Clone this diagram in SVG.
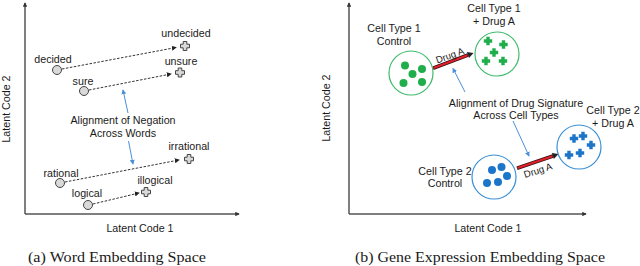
<svg xmlns="http://www.w3.org/2000/svg" width="640" height="266" viewBox="0 0 640 266">
<style>
.t{font-family:"Liberation Sans",Arial,sans-serif;font-size:10.7px;fill:#1a1a1a;text-anchor:middle}
.cap{font-family:"Liberation Serif","Times New Roman",serif;font-size:15px;fill:#1a1a1a;text-anchor:middle}
.ax{stroke:#555;stroke-width:1.5;fill:none}
.dash{stroke:#333;stroke-width:1;stroke-dasharray:2.5,1.5;fill:none}
.blue{stroke:#4a90d9;stroke-width:1;fill:none}
.wc{fill:#d9d9d9;stroke:#444;stroke-width:1}
.gc{fill:none;stroke:#3dbb6a;stroke-width:1.2}
.bc{fill:none;stroke:#3a8fd6;stroke-width:1.2}
.gd{fill:#1fae4a}
.bd{fill:#1b75c9}
.rout{stroke:#3a1010;stroke-width:3.6;fill:none}
.rin{stroke:#e0202a;stroke-width:2;fill:none}
.rhd{fill:#222}
.dl{font-family:"Liberation Sans",Arial,sans-serif;font-size:9.6px;fill:#1a1a1a;text-anchor:middle}
</style>
<defs>
<marker id="ah" viewBox="0 0 6 6" refX="5" refY="3" markerWidth="5" markerHeight="5" orient="auto"><path d="M0,0 L6,3 L0,6 z" fill="#222"/></marker>
<marker id="axh" viewBox="0 0 6 6" refX="5" refY="3" markerWidth="3" markerHeight="3" orient="auto"><path d="M0,0 L6,3 L0,6 z" fill="#333"/></marker>
<marker id="bh" viewBox="0 0 6 6" refX="5" refY="3" markerWidth="5" markerHeight="5" orient="auto"><path d="M0,0 L6,3 L0,6 z" fill="#4a90d9"/></marker>
<path id="plus" d="M-1.8,-4.5 h3.6 v2.7 h2.7 v3.6 h-2.7 v2.7 h-3.6 v-2.7 h-2.7 v-3.6 h2.7 z"/>
<path id="gplus" d="M-1.7,-4.2 h3.4 v2.5 h2.5 v3.4 h-2.5 v2.5 h-3.4 v-2.5 h-2.5 v-3.4 h2.5 z"/>
<path id="rhead" d="M0,0 L-6,-3.2 L-6,3.2 z"/>
</defs>

<!-- Panel (a) axes -->
<g id="axes-a">
<line class="ax" x1="25" y1="214" x2="25" y2="3" marker-end="url(#axh)"/>
<line class="ax" x1="25" y1="214" x2="239" y2="214" marker-end="url(#axh)"/>
<text class="t" x="140" y="232">Latent Code 1</text>
<text class="t" transform="translate(10,109) rotate(-90)">Latent Code 2</text>
</g>

<g id="connectors-a">
<line class="dash" x1="62" y1="69" x2="176" y2="47.5" marker-end="url(#ah)"/>
<line class="dash" x1="89" y1="90" x2="171" y2="74" marker-end="url(#ah)"/>
<line class="dash" x1="65" y1="182" x2="179" y2="160" marker-end="url(#ah)"/>
<line class="dash" x1="93" y1="204" x2="139" y2="193" marker-end="url(#ah)"/>
<line class="blue" x1="128" y1="113" x2="123" y2="90" marker-end="url(#bh)"/>
<line class="blue" x1="128.5" y1="141" x2="133" y2="164" marker-end="url(#bh)"/>
</g>

<g id="decided"><circle class="wc" cx="57" cy="70" r="4.5"/><text class="t" x="53" y="63">decided</text></g>
<g id="undecided"><use href="#plus" class="wc" x="185" y="46"/><text class="t" x="186" y="37">undecided</text></g>
<g id="sure"><circle class="wc" cx="84" cy="91" r="4.5"/><text class="t" x="83" y="85">sure</text></g>
<g id="unsure"><use href="#plus" class="wc" x="180" y="72.5"/><text class="t" x="181" y="65">unsure</text></g>
<g id="rational"><circle class="wc" cx="60" cy="183" r="4.5"/><text class="t" x="61" y="177">rational</text></g>
<g id="irrational"><use href="#plus" class="wc" x="189" y="159"/><text class="t" x="189" y="150">irrational</text></g>
<g id="logical"><circle class="wc" cx="88" cy="205" r="4.5"/><text class="t" x="87" y="197">logical</text></g>
<g id="illogical"><use href="#plus" class="wc" x="146" y="192"/><text class="t" x="155" y="184">illogical</text></g>
<g id="label-a"><text class="t" x="123" y="124">Alignment of Negation</text><text class="t" x="123" y="137">Across Words</text></g>

<!-- Panel (b) axes -->
<g id="axes-b">
<line class="ax" x1="349" y1="214" x2="349" y2="3" marker-end="url(#axh)"/>
<line class="ax" x1="349" y1="214" x2="586" y2="214" marker-end="url(#axh)"/>
<text class="t" x="488" y="232">Latent Code 1</text>
<text class="t" transform="translate(330,108) rotate(-90)">Latent Code 2</text>
</g>

<g id="connectors-b">
<line class="rout" x1="433" y1="68.2" x2="468" y2="55"/>
<line class="rin" x1="433.5" y1="68" x2="467.5" y2="55.2"/>
<use href="#rhead" class="rhd" transform="translate(473.5,53) rotate(-20.6)"/>
<text class="dl" transform="translate(451,58.5) rotate(-20)">Drug A</text>
<line class="rout" x1="517" y1="168.2" x2="553" y2="156"/>
<line class="rin" x1="517.5" y1="168" x2="552.5" y2="156.2"/>
<use href="#rhead" class="rhd" transform="translate(558.5,154) rotate(-18.7)"/>
<text class="dl" transform="translate(539,173.5) rotate(-18)">Drug A</text>
<line class="blue" x1="465" y1="92" x2="453" y2="68.5" marker-end="url(#bh)"/>
<line class="blue" x1="513" y1="121" x2="529" y2="156" marker-end="url(#bh)"/>
</g>

<g id="ct1-control">
<circle class="gc" cx="411" cy="73" r="22"/>
<circle class="gd" cx="405" cy="65.5" r="4"/><circle class="gd" cx="422" cy="69" r="4"/><circle class="gd" cx="412.5" cy="74" r="4"/><circle class="gd" cx="403.5" cy="83" r="4"/><circle class="gd" cx="422" cy="82" r="4"/>
<text class="t" x="394" y="32">Cell Type 1</text><text class="t" x="394" y="45">Control</text>
</g>
<g id="ct1-drug">
<circle class="gc" cx="497" cy="54" r="22"/>
<use href="#gplus" class="gd" x="488" y="41"/><use href="#gplus" class="gd" x="503.5" y="44.5"/><use href="#gplus" class="gd" x="494" y="52.5"/><use href="#gplus" class="gd" x="486" y="61"/><use href="#gplus" class="gd" x="503" y="61"/>
<text class="t" x="494" y="12">Cell Type 1</text><text class="t" x="494" y="25">+ Drug A</text>
</g>
<g id="ct2-control">
<circle class="bc" cx="494" cy="177" r="22"/>
<circle class="bd" cx="492" cy="170" r="4"/><circle class="bd" cx="501.5" cy="167" r="4"/><circle class="bd" cx="507" cy="176" r="4"/><circle class="bd" cx="498" cy="182" r="4"/><circle class="bd" cx="487" cy="183" r="4"/>
<text class="t" x="445" y="175">Cell Type 2</text><text class="t" x="445" y="187">Control</text>
</g>
<g id="ct2-drug">
<circle class="bc" cx="579" cy="147" r="22"/>
<use href="#gplus" class="bd" x="574" y="138.5"/><use href="#gplus" class="bd" x="583" y="136"/><use href="#gplus" class="bd" x="591" y="145"/><use href="#gplus" class="bd" x="580" y="153"/><use href="#gplus" class="bd" x="569" y="155"/>
<text class="t" x="613" y="114">Cell Type 2</text><text class="t" x="613" y="127">+ Drug A</text>
</g>
<g id="label-b"><text class="t" x="516" y="107">Alignment of Drug Signature</text><text class="t" x="516" y="119">Across Cell Types</text></g>

<text class="cap" x="117" y="262" textLength="178" lengthAdjust="spacingAndGlyphs">(a) Word Embedding Space</text>
<text class="cap" x="480" y="262" textLength="250" lengthAdjust="spacingAndGlyphs">(b) Gene Expression Embedding Space</text>
</svg>
